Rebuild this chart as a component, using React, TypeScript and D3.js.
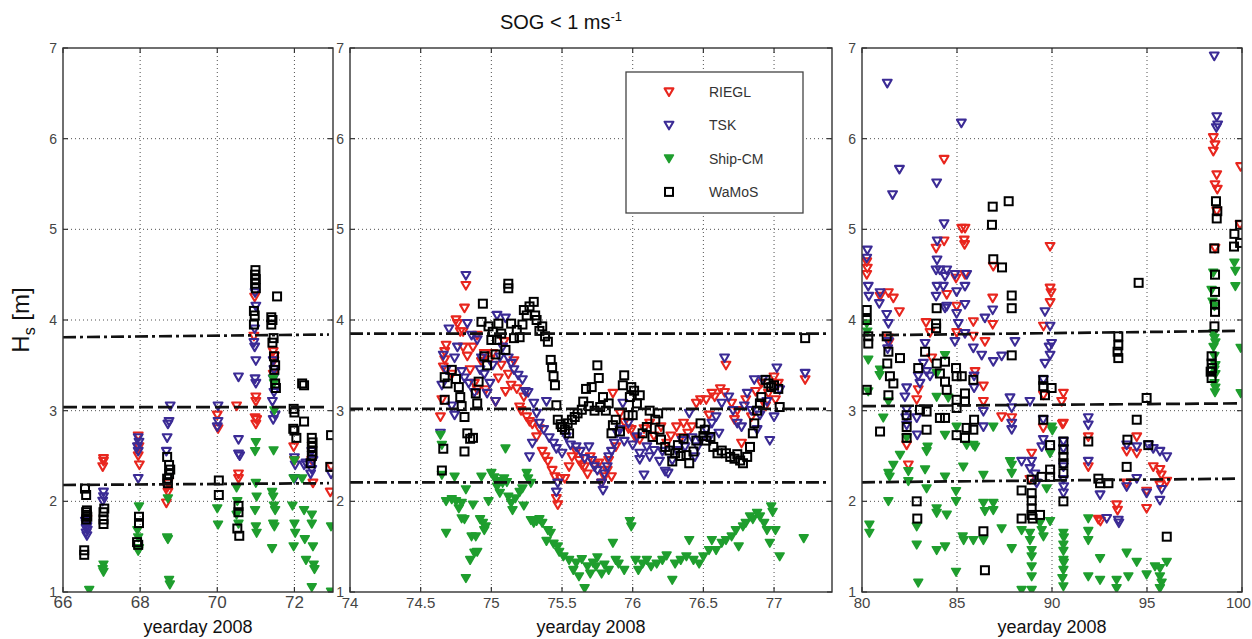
import React from "react";
import * as d3 from "d3";

type P = [number, number];

// ---- axis ticks ----
const yTicks = [1, 2, 3, 4, 5, 6, 7];
const xTicks1 = [66, 68, 70, 72];
const xTicks2 = [74, 74.5, 75, 75.5, 76, 76.5, 77];
const xTicks3 = [80, 85, 90, 95, 100];

const seriesNames = ["RIEGL", "TSK", "Ship-CM", "WaMoS"];

// ---- panel 1: yeardays 66-73 ----
const riegl1: P[] = [[66.62,1.8],[67.05,2.47],[67.05,2.44],[67.03,2.38],[67.95,2.72],[67.97,2.6],[67.95,2.5],[67.98,2.4],[68.72,2.2],[68.7,2.15],[68.72,2.1],[68.68,1.98],[70.0,2.95],[70.02,2.8],[70.5,3.05],[70.55,2.3],[70.55,2.25],[70.97,4.25],[70.95,3.82],[71.0,3.15],[71.0,3.1],[70.98,2.92],[71.02,2.9],[71.0,2.85],[71.45,3.65],[71.48,3.6],[71.47,3.55],[71.45,3.4],[71.98,2.6],[72.0,2.45],[72.45,2.45],[72.48,2.2],[72.95,2.38],[72.93,2.1]];
const tsk1: P[] = [[66.58,1.78],[66.6,1.75],[66.62,1.72],[66.6,1.7],[66.63,1.68],[66.6,1.65],[66.62,1.62],[67.05,2.1],[67.05,2.05],[67.03,2.0],[67.95,2.7],[67.97,2.65],[67.93,2.6],[67.95,2.55],[67.95,2.25],[68.78,3.05],[68.75,2.88],[68.72,2.85],[68.7,2.7],[68.68,2.55],[70.02,3.05],[70.02,2.88],[70.0,2.82],[70.55,3.37],[70.55,2.68],[70.55,2.52],[70.58,2.5],[70.98,4.3],[71.0,4.15],[70.97,3.9],[70.95,3.75],[70.97,3.7],[71.0,3.55],[70.98,3.35],[71.0,3.3],[71.45,3.55],[71.47,3.45],[71.45,3.35],[71.47,3.2],[71.43,3.1],[71.5,2.95],[71.45,2.9],[72.0,2.48],[72.02,2.4],[72.0,2.25],[72.25,2.4],[72.3,2.42],[72.45,2.55],[72.48,2.45],[72.45,2.35],[72.42,2.3],[72.95,2.3]];
const ship1: P[] = [[66.68,1.02],[67.05,1.3],[67.03,1.25],[67.05,1.22],[67.97,1.94],[67.93,1.68],[67.95,1.6],[67.97,1.48],[67.95,1.45],[68.72,2.03],[68.7,1.6],[68.72,1.58],[68.75,1.13],[68.77,1.08],[70.0,1.92],[70.02,1.74],[70.5,2.15],[70.52,2.0],[70.5,1.85],[70.55,1.75],[71.0,2.65],[70.98,2.55],[71.0,2.2],[71.02,2.05],[70.98,1.9],[71.0,1.72],[71.02,1.65],[71.45,3.35],[71.47,3.3],[71.48,3.0],[71.46,2.56],[71.42,2.1],[71.45,2.05],[71.47,1.95],[71.5,1.9],[71.45,1.75],[71.48,1.72],[71.42,1.48],[72.0,2.45],[71.98,2.25],[71.95,1.95],[72.0,1.75],[72.02,1.65],[71.98,1.5],[72.2,2.25],[72.25,1.9],[72.27,1.58],[72.3,1.35],[72.45,1.85],[72.45,1.75],[72.48,1.5],[72.5,1.3],[72.52,1.25],[72.45,1.05],[72.95,1.72],[72.95,1.0]];
const wamos1: P[] = [[66.57,2.14],[66.6,2.07],[66.62,1.9],[66.6,1.88],[66.62,1.85],[66.63,1.83],[66.6,1.8],[66.55,1.46],[66.55,1.41],[67.07,1.92],[67.05,1.88],[67.05,1.8],[67.05,1.75],[67.97,1.83],[67.97,1.76],[67.92,1.55],[67.95,1.52],[68.7,2.49],[68.75,2.4],[68.78,2.35],[68.75,2.3],[68.7,2.25],[68.72,2.2],[70.04,2.23],[70.04,2.07],[70.55,1.95],[70.55,1.88],[70.52,1.7],[70.57,1.62],[70.99,4.55],[70.98,4.5],[71.0,4.45],[70.98,4.4],[71.0,4.35],[70.95,4.1],[70.97,4.05],[70.95,3.95],[71.55,4.26],[71.4,4.03],[71.43,4.0],[71.4,3.95],[71.46,3.8],[71.43,3.75],[71.47,3.6],[71.5,3.5],[71.48,3.45],[71.5,3.3],[71.52,3.25],[72.2,3.3],[72.25,3.28],[71.98,3.02],[72.0,2.98],[71.97,2.8],[72.0,2.78],[72.05,2.7],[72.25,2.88],[72.45,2.7],[72.47,2.65],[72.45,2.6],[72.47,2.55],[72.45,2.5],[72.42,2.42],[72.95,2.73],[72.93,2.38]];

// ---- panel 2: yeardays 74-77.4 ----
const riegl2: P[] = [[74.64,2.93],[74.65,3.12],[74.66,3.48],[74.67,3.56],[74.67,3.65],[74.68,3.72],[74.72,3.4],[74.75,4.0],[74.76,3.96],[74.78,3.87],[74.8,3.87],[74.81,4.13],[74.82,4.38],[74.8,3.7],[74.83,3.6],[74.85,3.45],[74.87,3.7],[74.88,3.3],[74.9,3.83],[74.9,3.23],[74.93,3.54],[74.95,3.63],[74.96,3.23],[74.99,3.56],[75.01,3.63],[75.03,3.1],[75.05,3.36],[75.07,3.5],[75.09,3.76],[75.1,3.21],[75.12,3.4],[75.14,3.28],[75.16,3.55],[75.18,3.24],[75.2,3.04],[75.21,3.0],[75.23,3.15],[75.25,2.93],[75.27,2.88],[75.29,2.85],[75.32,2.71],[75.34,2.8],[75.36,2.55],[75.38,2.49],[75.4,2.44],[75.43,2.34],[75.45,2.27],[75.46,2.03],[75.47,1.96],[75.49,2.25],[75.52,2.25],[75.55,2.38],[75.57,2.49],[75.6,2.55],[75.62,2.45],[75.64,2.4],[75.66,2.38],[75.68,2.3],[75.7,2.49],[75.73,2.4],[75.76,2.42],[75.78,2.2],[75.8,2.27],[75.82,2.34],[75.83,2.45],[75.85,2.27],[75.86,3.19],[75.88,2.6],[75.91,2.97],[75.94,2.87],[75.97,2.8],[75.99,2.79],[76.02,2.7],[76.05,2.68],[76.08,2.8],[76.12,2.86],[76.15,2.72],[76.2,2.82],[76.24,2.64],[76.27,2.72],[76.31,2.82],[76.34,2.7],[76.36,2.86],[76.39,2.75],[76.42,2.82],[76.45,3.08],[76.48,3.12],[76.52,3.12],[76.54,2.95],[76.56,3.19],[76.58,3.15],[76.62,3.24],[76.65,3.2],[76.66,3.5],[76.7,3.08],[76.72,2.9],[76.74,3.0],[76.77,2.64],[76.8,3.12],[76.84,2.93],[76.87,3.21],[76.91,3.3],[76.94,3.05],[76.96,3.19],[77.0,3.37],[77.01,3.12],[77.03,3.3],[77.22,3.34]];
const tsk2: P[] = [[74.64,2.75],[74.65,3.28],[74.66,3.61],[74.68,3.45],[74.7,3.9],[74.72,3.05],[74.74,2.95],[74.74,3.58],[74.76,3.7],[74.79,3.43],[74.81,3.36],[74.82,4.49],[74.83,3.96],[74.84,3.3],[74.86,3.83],[74.88,3.2],[74.9,3.78],[74.92,3.45],[74.93,3.58],[74.95,3.4],[74.97,3.19],[74.99,3.3],[75.01,3.5],[75.03,3.1],[75.04,4.05],[75.06,3.59],[75.08,3.7],[75.1,4.02],[75.12,3.58],[75.14,3.52],[75.16,3.45],[75.19,3.39],[75.22,3.34],[75.24,3.21],[75.26,3.2],[75.27,2.49],[75.29,2.64],[75.3,3.08],[75.32,2.97],[75.34,2.86],[75.37,2.79],[75.39,3.1],[75.41,2.7],[75.44,2.64],[75.46,2.58],[75.46,2.1],[75.47,2.2],[75.5,2.53],[75.53,2.71],[75.56,2.62],[75.6,2.6],[75.63,2.55],[75.66,2.47],[75.69,2.6],[75.71,2.45],[75.73,2.38],[75.75,2.34],[75.78,2.2],[75.79,2.12],[75.8,2.3],[75.82,2.38],[75.83,2.49],[75.85,2.55],[75.87,2.64],[75.89,2.75],[75.91,2.79],[75.93,3.08],[75.94,2.66],[75.97,2.86],[76.0,2.62],[76.03,2.71],[76.05,2.53],[76.05,2.46],[76.08,2.29],[76.1,2.6],[76.12,2.49],[76.15,2.56],[76.19,2.44],[76.21,2.55],[76.23,2.33],[76.25,2.31],[76.28,2.45],[76.31,2.56],[76.35,2.67],[76.37,2.6],[76.4,2.97],[76.42,2.7],[76.44,2.49],[76.46,2.6],[76.48,2.67],[76.52,2.79],[76.54,2.7],[76.56,2.86],[76.59,2.93],[76.61,2.75],[76.63,3.08],[76.65,3.58],[76.68,3.15],[76.71,3.0],[76.74,2.86],[76.77,2.82],[76.79,3.05],[76.81,3.19],[76.84,3.0],[76.86,3.34],[76.88,2.79],[76.9,2.95],[76.92,3.34],[76.95,3.1],[76.97,2.67],[77.0,2.93],[77.02,3.47],[77.04,3.23],[77.22,3.41]];
const ship2: P[] = [[74.64,2.73],[74.65,2.62],[74.65,2.29],[74.68,2.0],[74.68,1.65],[74.72,2.02],[74.74,2.27],[74.75,2.0],[74.77,1.92],[74.79,1.98],[74.79,1.81],[74.81,1.8],[74.82,2.13],[74.82,1.15],[74.85,1.35],[74.86,1.61],[74.87,1.96],[74.88,1.43],[74.89,1.61],[74.9,1.44],[74.92,1.8],[74.93,2.27],[74.94,1.76],[74.95,1.68],[74.96,1.72],[74.98,2.0],[75.0,2.31],[75.02,2.26],[75.04,2.16],[75.05,2.22],[75.06,2.09],[75.08,2.2],[75.09,2.25],[75.1,2.58],[75.11,2.21],[75.12,2.05],[75.14,1.98],[75.15,1.9],[75.17,2.03],[75.2,2.1],[75.22,2.14],[75.23,1.95],[75.25,2.31],[75.26,2.25],[75.28,2.2],[75.28,1.79],[75.3,1.76],[75.32,1.78],[75.34,1.8],[75.36,1.76],[75.39,1.56],[75.4,1.68],[75.42,1.65],[75.44,1.53],[75.47,1.5],[75.48,1.44],[75.51,1.39],[75.55,1.35],[75.58,1.24],[75.6,1.32],[75.62,1.17],[75.64,1.36],[75.66,1.04],[75.68,1.28],[75.7,1.2],[75.72,1.32],[75.74,1.28],[75.75,1.38],[75.78,1.2],[75.8,1.3],[75.83,1.24],[75.86,1.54],[75.88,1.35],[75.9,1.31],[75.94,1.24],[75.98,1.78],[75.99,1.72],[76.02,1.35],[76.04,1.24],[76.07,1.31],[76.1,1.35],[76.13,1.28],[76.17,1.31],[76.21,1.35],[76.24,1.4],[76.28,1.13],[76.3,1.31],[76.34,1.35],[76.38,1.39],[76.4,1.57],[76.43,1.35],[76.47,1.31],[76.5,1.39],[76.54,1.46],[76.56,1.57],[76.59,1.46],[76.63,1.54],[76.66,1.57],[76.7,1.61],[76.73,1.68],[76.75,1.5],[76.78,1.72],[76.8,1.76],[76.83,1.83],[76.85,1.8],[76.88,1.87],[76.9,1.83],[76.93,1.76],[76.95,1.68],[76.97,1.54],[76.98,1.94],[76.99,1.88],[77.01,1.68],[77.04,1.39],[77.21,1.59]];
const wamos2: P[] = [[74.65,2.34],[74.66,2.58],[74.67,3.12],[74.67,3.37],[74.69,3.3],[74.72,3.45],[74.75,3.35],[74.77,3.26],[74.78,3.15],[74.79,3.05],[74.81,2.93],[74.81,2.55],[74.83,2.75],[74.85,2.69],[74.87,2.7],[74.89,3.19],[74.9,3.08],[74.91,3.32],[74.93,3.98],[74.94,4.18],[74.95,3.6],[74.97,3.5],[74.98,3.93],[75.0,3.78],[75.01,3.87],[75.03,3.62],[75.04,3.78],[75.05,3.96],[75.07,3.85],[75.1,3.67],[75.12,4.4],[75.12,4.35],[75.14,3.96],[75.16,3.8],[75.18,3.89],[75.2,3.81],[75.22,3.95],[75.23,4.11],[75.25,4.05],[75.27,4.15],[75.3,4.2],[75.31,4.05],[75.32,4.0],[75.34,3.88],[75.36,3.93],[75.38,3.82],[75.4,3.76],[75.42,3.56],[75.43,3.48],[75.44,3.38],[75.45,3.28],[75.46,3.06],[75.47,2.9],[75.49,2.85],[75.5,2.82],[75.52,2.79],[75.54,2.86],[75.55,2.75],[75.57,2.9],[75.59,2.93],[75.61,2.97],[75.64,3.01],[75.65,3.1],[75.67,3.24],[75.69,3.05],[75.71,3.26],[75.73,3.0],[75.75,3.5],[75.76,3.36],[75.77,3.04],[75.79,3.15],[75.81,3.0],[75.83,3.08],[75.85,2.75],[75.86,2.84],[75.88,2.9],[75.91,2.77],[75.93,3.28],[75.94,3.39],[75.97,2.95],[75.98,3.15],[75.99,3.26],[76.0,2.95],[76.01,3.22],[76.03,3.08],[76.05,3.17],[76.07,2.75],[76.1,2.82],[76.12,3.0],[76.14,2.71],[76.16,2.9],[76.18,2.97],[76.19,2.79],[76.2,2.68],[76.23,2.6],[76.26,2.56],[76.28,2.44],[76.3,2.53],[76.32,2.62],[76.34,2.5],[76.36,2.69],[76.38,2.51],[76.4,2.42],[76.43,2.55],[76.45,2.67],[76.48,2.86],[76.5,2.72],[76.51,2.79],[76.52,2.67],[76.55,2.71],[76.57,2.6],[76.6,2.53],[76.63,2.56],[76.66,2.53],[76.69,2.49],[76.72,2.47],[76.74,2.52],[76.76,2.45],[76.78,2.42],[76.81,2.49],[76.83,2.6],[76.85,2.75],[76.86,2.86],[76.88,3.0],[76.9,3.08],[76.91,3.15],[76.94,3.34],[76.96,3.3],[76.98,3.26],[77.0,3.28],[77.03,3.24],[77.04,3.04],[77.22,3.8]];

// ---- panel 3: yeardays 80-100 ----
const riegl3: P[] = [[80.25,4.64],[80.28,4.57],[80.25,4.5],[80.95,4.26],[81.39,4.3],[81.65,4.24],[81.97,4.09],[81.39,3.8],[81.42,3.75],[82.35,2.62],[82.44,2.4],[82.96,3.23],[82.88,3.12],[83.37,3.97],[83.58,3.86],[83.67,3.58],[83.9,4.79],[84.32,4.87],[84.32,5.77],[84.46,4.28],[84.95,4.46],[84.98,4.15],[84.98,3.86],[85.25,5.01],[85.42,5.01],[85.38,4.88],[85.4,4.83],[85.42,4.5],[85.86,3.98],[85.86,3.82],[85.95,3.43],[86.39,3.27],[86.39,3.1],[86.47,3.76],[86.91,4.59],[86.88,4.24],[86.88,3.95],[87.35,2.93],[87.88,2.92],[88.93,2.53],[88.84,2.24],[89.54,2.81],[89.55,3.17],[89.55,3.93],[89.9,4.81],[89.9,4.35],[89.95,4.3],[89.9,4.19],[90.6,3.19],[90.51,3.1],[90.6,2.86],[90.55,2.85],[91.91,2.71],[91.91,2.38],[92.44,1.8],[92.55,1.78],[93.4,1.96],[93.45,1.9],[93.93,2.55],[93.93,2.2],[94.46,2.71],[94.46,2.53],[94.98,1.92],[94.98,2.11],[95.33,2.38],[95.68,2.35],[95.75,2.29],[95.68,2.18],[96.04,2.22],[98.49,6.01],[98.58,5.93],[98.49,5.86],[98.67,5.6],[98.58,5.49],[98.7,5.44],[98.67,5.2],[98.58,4.79],[99.93,5.69],[99.9,5.05]];
const tsk3: P[] = [[80.28,4.77],[80.25,4.68],[80.33,4.37],[80.36,4.26],[80.95,4.3],[80.91,4.18],[81.33,6.61],[81.3,4.06],[81.39,3.96],[81.39,3.76],[81.35,3.68],[81.61,5.38],[81.97,5.66],[82.35,3.25],[82.26,3.15],[82.35,3.01],[82.3,2.92],[82.35,2.84],[82.88,2.92],[82.91,2.73],[82.96,3.38],[83.05,3.3],[83.23,3.52],[83.32,3.74],[83.4,3.43],[83.58,3.38],[83.93,5.51],[83.96,4.87],[83.95,4.66],[83.9,4.55],[84.1,4.55],[84.46,4.55],[84.37,4.48],[83.95,4.37],[84.28,4.37],[83.9,4.26],[84.46,4.15],[84.37,4.13],[84.32,5.06],[84.89,4.5],[84.98,4.31],[84.98,4.07],[85.07,3.96],[84.89,3.76],[85.23,6.17],[85.51,4.5],[85.42,4.37],[85.42,4.17],[85.42,3.85],[85.86,3.69],[85.9,3.38],[85.9,3.25],[86.3,3.61],[86.39,2.99],[86.39,2.82],[86.47,4.02],[86.88,4.11],[86.91,3.54],[87.35,3.6],[87.79,3.14],[87.88,3.03],[87.88,2.86],[87.88,2.79],[88.05,3.76],[88.84,3.1],[88.93,2.44],[88.84,2.36],[88.4,2.44],[89.1,2.3],[89.19,2.2],[89.46,2.6],[89.54,2.68],[89.54,2.9],[89.55,3.34],[89.63,3.52],[89.63,4.09],[89.9,3.93],[89.98,3.74],[89.9,3.61],[89.85,3.7],[90.6,2.66],[90.6,2.58],[90.6,2.38],[90.6,2.24],[90.62,2.16],[90.6,2.09],[91.91,2.92],[91.91,2.84],[91.91,2.44],[92.53,2.07],[92.88,1.81],[93.49,1.79],[93.52,1.76],[93.93,2.16],[93.93,2.62],[94.46,2.25],[94.46,2.6],[94.98,2.09],[95.07,2.62],[95.33,2.58],[95.68,2.55],[96.04,2.49],[95.77,2.13],[95.68,2.01],[98.54,6.91],[98.67,6.24],[98.72,6.15],[98.65,6.12]];
const ship3: P[] = [[80.25,3.96],[80.28,3.87],[80.33,3.56],[80.33,3.21],[80.39,1.74],[80.39,1.65],[80.95,3.45],[80.93,3.39],[81.12,2.92],[81.39,3.1],[81.39,2.31],[81.45,2.27],[81.39,2.0],[81.65,2.4],[82.0,2.51],[82.44,2.33],[82.44,2.22],[82.35,2.7],[82.88,1.72],[82.88,1.52],[82.96,1.1],[83.32,2.35],[83.4,2.14],[83.4,2.55],[83.45,2.6],[83.93,3.41],[83.93,3.15],[83.93,1.92],[83.93,1.87],[83.93,1.46],[84.37,3.61],[84.37,2.73],[84.37,2.27],[84.46,1.85],[84.37,1.5],[84.54,3.14],[84.95,2.11],[84.95,2.0],[84.95,1.22],[84.98,2.82],[85.3,1.61],[85.35,1.57],[85.33,2.38],[85.51,2.62],[85.86,2.62],[85.95,2.6],[85.86,1.57],[86.39,2.29],[86.39,1.98],[86.47,1.89],[86.39,1.57],[86.91,1.98],[86.91,1.9],[86.91,2.82],[87.35,1.7],[87.79,2.44],[87.88,2.4],[87.88,2.31],[87.88,1.48],[88.4,1.68],[88.4,1.02],[88.84,1.65],[88.84,1.57],[88.93,1.46],[88.93,1.39],[88.93,1.28],[88.93,1.17],[88.93,1.02],[89.37,1.76],[89.46,1.68],[89.55,1.61],[89.72,2.14],[89.9,1.78],[89.98,2.82],[90.02,2.78],[89.9,2.53],[90.6,1.65],[90.62,1.6],[90.6,1.52],[90.6,1.45],[90.6,1.35],[90.62,1.32],[90.6,1.24],[90.55,1.15],[90.6,1.06],[91.91,1.81],[91.91,1.67],[91.91,1.57],[91.91,1.17],[92.53,1.37],[92.53,1.13],[93.4,1.13],[93.4,1.04],[94.02,1.17],[93.93,1.43],[94.46,1.33],[94.98,1.19],[95.42,1.28],[95.68,1.26],[95.68,1.17],[95.77,1.1],[95.68,1.04],[96.04,1.33],[98.49,4.52],[98.4,4.33],[98.45,4.2],[98.55,4.15],[98.5,3.85],[98.55,3.8],[98.6,3.75],[98.5,3.7],[98.55,3.6],[98.6,3.5],[98.55,3.45],[98.6,3.4],[98.55,3.3],[98.6,3.25],[98.58,3.2],[99.6,4.63],[99.65,4.54],[99.65,4.37],[99.93,3.69],[99.93,3.19]];
const wamos3: P[] = [[80.25,4.11],[80.25,4.0],[80.33,3.82],[80.33,3.74],[80.25,3.23],[80.95,2.77],[81.3,3.82],[81.39,3.65],[81.33,3.52],[81.47,3.38],[81.65,3.3],[81.39,3.17],[82.0,3.58],[82.35,2.95],[82.35,2.82],[82.35,2.7],[82.88,2.0],[82.91,1.81],[82.96,3.47],[83.05,3.01],[83.4,2.99],[83.4,2.79],[83.32,3.65],[83.9,3.96],[83.9,3.91],[83.93,4.13],[83.93,3.52],[84.1,3.41],[84.37,3.54],[84.37,3.32],[84.46,3.23],[84.1,2.92],[84.37,2.92],[84.95,3.47],[84.98,3.38],[85.25,3.38],[84.98,3.12],[84.98,3.03],[84.98,2.73],[85.42,3.19],[85.42,3.1],[85.51,2.81],[85.42,2.7],[85.86,3.34],[85.9,2.9],[85.86,2.79],[86.47,1.24],[86.39,1.67],[86.88,5.25],[87.72,5.31],[86.84,5.05],[86.91,4.67],[87.37,4.58],[87.88,4.27],[87.88,4.13],[87.88,3.61],[88.4,2.12],[88.4,1.81],[88.93,2.24],[88.93,2.09],[88.93,2.01],[88.93,1.92],[88.93,1.85],[88.98,1.81],[89.37,1.85],[89.46,2.27],[89.54,3.34],[89.54,3.27],[89.63,3.17],[89.54,2.9],[89.98,3.25],[89.9,2.62],[89.9,2.35],[89.9,2.27],[90.6,2.66],[90.6,2.57],[90.6,2.49],[90.6,2.42],[90.6,2.31],[90.6,2.0],[91.91,2.66],[92.44,2.25],[92.53,2.2],[92.97,2.2],[93.49,3.82],[93.49,3.72],[93.45,3.65],[93.49,3.58],[93.93,2.38],[93.97,2.68],[94.46,2.9],[94.56,4.41],[94.98,3.14],[95.07,2.62],[96.04,1.61],[98.63,5.31],[98.7,5.2],[98.67,5.12],[98.54,4.79],[98.58,4.5],[98.58,4.31],[98.58,4.17],[98.58,4.09],[98.55,3.93],[98.4,3.6],[98.4,3.52],[98.42,3.47],[98.35,3.43],[98.4,3.36],[99.6,4.95],[99.58,4.81],[99.9,4.85],[99.9,5.05]];

// ---- reference levels: [value at left edge, value at right edge, style] ----
type Level = [number, number, "dashdot" | "dash"];
const levels1: Level[] = [[3.81, 3.84, "dashdot"], [3.04, 3.04, "dash"], [2.18, 2.2, "dashdot"]];
const levels2: Level[] = [[3.85, 3.85, "dashdot"], [3.02, 3.02, "dashdot"], [2.21, 2.21, "dashdot"]];
const levels3: Level[] = [[3.83, 3.88, "dashdot"], [3.05, 3.08, "dash"], [2.21, 2.25, "dashdot"]];

const COLORS = ["#e8261e", "#3b2b95", "#1f9e2e", "#000000"];
const FONT = "'Liberation Sans', Arial, Helvetica, sans-serif";
const TOP = 48;
const BOTTOM = 592;
const WIDTH = 1252;

type Panel = {
  key: string;
  domain: [number, number];
  range: [number, number];
  ticks: number[];
  fmt: (v: number) => string;
  tickFont: number;
  series: P[][];
  levels: Level[];
  legend?: boolean;
};

const panels: Panel[] = [
  { key: "a", domain: [66, 73], range: [63, 333], ticks: xTicks1, fmt: d3.format("d"), tickFont: 17, series: [riegl1, tsk1, ship1, wamos1], levels: levels1 },
  { key: "b", domain: [74, 77.41], range: [350, 832], ticks: xTicks2, fmt: (v) => (Number.isInteger(v) ? String(v) : v.toFixed(1)), tickFont: 15, series: [riegl2, tsk2, ship2, wamos2], levels: levels2, legend: true },
  { key: "c", domain: [80, 100], range: [862, 1242], ticks: xTicks3, fmt: d3.format("d"), tickFont: 15, series: [riegl3, tsk3, ship3, wamos3], levels: levels3 },
];

function Marker({ kind, x, y }: { kind: number; x: number; y: number }) {
  const c = COLORS[kind];
  if (kind === 3) {
    return <rect x={x - 4} y={y - 4} width={8} height={8} fill="none" stroke={c} strokeWidth={2} />;
  }
  const d = `M${x - 4.4},${y - 3.6}L${x + 4.4},${y - 3.6}L${x},${y + 4}Z`;
  if (kind === 2) {
    return <path d={d} fill={c} stroke={c} strokeWidth={1.6} strokeLinejoin="round" />;
  }
  return <path d={d} fill="none" stroke={c} strokeWidth={2.1} strokeLinejoin="round" />;
}

function PanelView({ p }: { p: Panel }) {
  const x = d3.scaleLinear().domain(p.domain).range(p.range);
  const y = d3.scaleLinear().domain([1, 7]).range([BOTTOM, TOP]);
  const [x0, x1] = p.range;
  const clipId = `clip-${p.key}`;
  return (
    <g>
      <defs>
        <clipPath id={clipId}>
          <rect x={x0} y={TOP} width={x1 - x0} height={BOTTOM - TOP} />
        </clipPath>
      </defs>
      <rect x={x0} y={TOP} width={x1 - x0} height={BOTTOM - TOP} fill="#fff" />
      {/* dotted grid */}
      <g stroke="#333" strokeWidth={1} strokeDasharray="1,3" opacity={0.85}>
        {p.ticks.filter((t) => t > p.domain[0] && t < p.domain[1]).map((t) => (
          <line key={`gx${t}`} x1={x(t)} x2={x(t)} y1={TOP} y2={BOTTOM} />
        ))}
        {yTicks.filter((t) => t > 1 && t < 7).map((t) => (
          <line key={`gy${t}`} x1={x0} x2={x1} y1={y(t)} y2={y(t)} />
        ))}
      </g>
      {/* observations */}
      <g clipPath={`url(#${clipId})`}>
        {p.series.map((pts, k) => (
          <g key={k}>
            {pts.map(([vx, vy], i) => (
              <Marker key={i} kind={k} x={x(vx)} y={y(vy)} />
            ))}
          </g>
        ))}
        {/* reference levels */}
        {p.levels.map(([a, b, style], i) => (
          <line
            key={`lv${i}`}
            x1={x(p.domain[0])}
            x2={x(p.domain[1]) - 4}
            y1={y(a)}
            y2={y(b)}
            stroke="#111"
            strokeWidth={2.7}
            strokeDasharray={style === "dash" ? "14,5" : "13,4,3,4"}
          />
        ))}
      </g>
      {/* frame and ticks */}
      <rect x={x0} y={TOP} width={x1 - x0} height={BOTTOM - TOP} fill="none" stroke="#333" strokeWidth={1.4} />
      <g stroke="#333" strokeWidth={1.2}>
        {p.ticks.map((t) => (
          <g key={`tx${t}`}>
            <line x1={x(t)} x2={x(t)} y1={BOTTOM} y2={BOTTOM - 5} />
            <line x1={x(t)} x2={x(t)} y1={TOP} y2={TOP + 5} />
          </g>
        ))}
        {yTicks.map((t) => (
          <g key={`ty${t}`}>
            <line x1={x0} x2={x0 + 5} y1={y(t)} y2={y(t)} />
            <line x1={x1} x2={x1 - 5} y1={y(t)} y2={y(t)} />
          </g>
        ))}
      </g>
      <g fill="#444" fontFamily={FONT}>
        {p.ticks.map((t) => {
          const label = p.fmt(t);
          const half = label.length * p.tickFont * 0.28;
          const tx = Math.min(x(t), WIDTH - half - 1);
          return (
            <text key={`lx${t}`} x={tx} y={608} fontSize={p.tickFont} textAnchor="middle">
              {label}
            </text>
          );
        })}
        {yTicks.map((t) => (
          <text key={`ly${t}`} x={x0 - 6} y={y(t) + 5} fontSize={14} textAnchor="end">
            {t}
          </text>
        ))}
      </g>
      <text x={(x0 + x1) / 2} y={633} fontSize={18} textAnchor="middle" fontFamily={FONT} fill="#111">
        yearday 2008
      </text>
      {p.legend && <Legend />}
    </g>
  );
}

function Legend() {
  const lx = 626, ly = 72, lw = 177, lh = 141;
  return (
    <g>
      <rect x={lx} y={ly} width={lw} height={lh} fill="#fff" stroke="#444" strokeWidth={1.3} />
      {seriesNames.map((name, k) => {
        const cy = ly + 20 + k * 33.3;
        return (
          <g key={name}>
            <Marker kind={k} x={669} y={cy} />
            <text x={709} y={cy + 5} fontSize={14} fontFamily={FONT} fill="#333">
              {name}
            </text>
          </g>
        );
      })}
    </g>
  );
}

export default function App() {
  return (
    <svg
      width={WIDTH}
      height={639}
      viewBox={`0 0 ${WIDTH} 639`}
      style={{ position: "absolute", left: 0, top: 0, background: "#fff" }}
    >
      <rect width={WIDTH} height={639} fill="#fff" />
      {panels.map((p) => (
        <PanelView key={p.key} p={p} />
      ))}
      <text x={561} y={29} fontSize={20} textAnchor="middle" fontFamily={FONT} fill="#111">
        SOG &lt; 1 ms
        <tspan dy={-8} fontSize={13}>-1</tspan>
      </text>
      <text transform="translate(29,320) rotate(-90)" fontSize={24} textAnchor="middle" fontFamily={FONT} fill="#111">
        H<tspan dy={6} fontSize={16}>s</tspan>
        <tspan dy={-6}> [m]</tspan>
      </text>
    </svg>
  );
}
